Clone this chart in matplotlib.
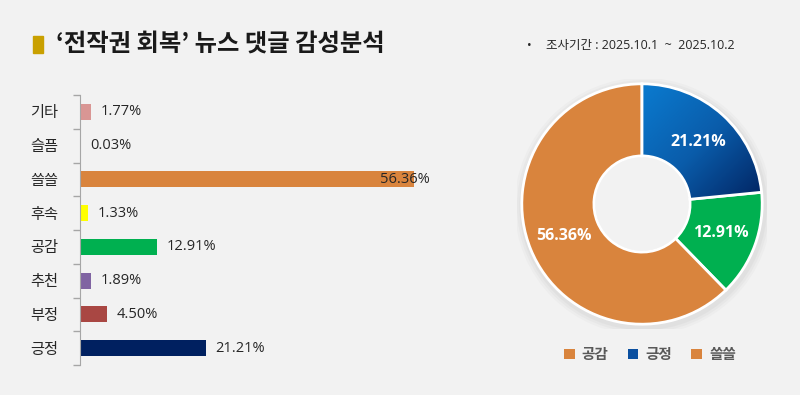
import numpy as np
import matplotlib
matplotlib.use("Agg")
import matplotlib.pyplot as plt
from matplotlib.patches import Patch, Rectangle
from matplotlib.colors import LinearSegmentedColormap

plt.rcParams['font.family'] = ['Open Sans', 'Noto Sans CJK KR', 'DejaVu Sans']

# 막대 데이터 (위에서 아래 순서)
categories = ['기타', '슬픔', '쓸쓸', '후속', '공감', '추천', '부정', '긍정']
values = [1.77, 0.03, 56.36, 1.33, 12.91, 1.89, 4.50, 21.21]
bar_colors = ['#D99694', '#D9D9D9', '#D9843D', '#FFFF00', '#00B050', '#8064A2', '#A94743', '#002060']

# 도넛 데이터
pie_labels = ['긍정', '공감', '쓸쓸']
pie_values = [21.21, 12.91, 56.36]
pie_colors = ['#0A5CAA', '#00B050', '#D9843D']

legend_labels = ['공감', '긍정', '쓸쓸']
legend_colors = ['#D9843D', '#0A4FA0', '#D9843D']

bg = '#F2F2F2'
fig = plt.figure(figsize=(8, 3.95), dpi=100)
fig.patch.set_facecolor(bg)

# 제목
fig.patches.append(Rectangle((33 / 800, 1 - 53 / 395), 10 / 800, 17 / 395,
                             transform=fig.transFigure, color='#C9A000'))
fig.text(56 / 800, 1 - 44 / 395, "‘전작권 회복’ 뉴스 댓글 감성분석", fontsize=17.5,
         fontweight='bold', color='#1A1A1A', va='center', ha='left',
         family=['Noto Sans CJK KR', 'DejaVu Sans'])
fig.text(527 / 800, 1 - 45 / 395, "•", fontsize=9, color='#262626', va='center')
fig.text(546 / 800, 1 - 45 / 395, "조사기간 : 2025.10.1  ~  2025.10.2", fontsize=9,
         color='#262626', va='center')

# 막대 그래프
ax = fig.add_axes([80 / 800, 30 / 395, 356 / 800, 270 / 395])
ax.set_facecolor(bg)
ypos = np.arange(len(categories))[::-1]
ax.barh(ypos, values, height=0.47, color=bar_colors)
ax.set_xlim(0, 60)
ax.set_ylim(-0.5, len(categories) - 0.5)
ax.set_yticks(ypos)
ax.set_yticklabels(categories, fontsize=11, color='#262626')
ax.set_yticks(np.arange(-0.5, len(categories), 1), minor=True)
ax.tick_params(axis='y', which='major', length=0, pad=16)
ax.tick_params(axis='y', which='minor', length=5, color='#A6A6A6', width=1)
ax.set_xticks([])
for s in ['top', 'right', 'bottom']:
    ax.spines[s].set_visible(False)
ax.spines['left'].set_color('#A6A6A6')
vmax = max(values)
for y, v in zip(ypos, values):
    if v == vmax:
        ax.annotate(f"{v:.2f}%", (v, y), xytext=(-25, 0), textcoords='offset points',
                    ha='left', va='center', fontsize=10.5, color='#262626')
    else:
        ax.annotate(f"{v:.2f}%", (v, y), xytext=(7, 0), textcoords='offset points',
                    ha='left', va='center', fontsize=10.5, color='#262626')

# 도넛 차트
ax2 = fig.add_axes([517 / 800, 66 / 395, 250 / 800, 250 / 395])
ax2.set_facecolor(bg)
for r, a in [(1.07, 0.04), (1.05, 0.05), (1.03, 0.06)]:
    ax2.add_patch(plt.Circle((0.01, -0.02), r, color='#808080', alpha=a, lw=0, zorder=0.8))
ax2.add_patch(plt.Circle((0, 0), 0.39, color=bg, lw=0, zorder=0.9))
wedges, _ = ax2.pie(pie_values, colors=pie_colors, startangle=90, counterclock=False,
                    radius=1, wedgeprops=dict(width=0.6, edgecolor='white', linewidth=2))
ax2.set_xlim(-1.04, 1.04)
ax2.set_ylim(-1.04, 1.04)
ax2.set_aspect('equal')
ax2.axis('off')

# 긍정 조각 그라데이션
gx, gy = np.meshgrid(np.linspace(-1, 1, 300), np.linspace(1, -1, 300))
grad = np.clip((gx - gy + 1) / 2, 0, 1)
cmap = LinearSegmentedColormap.from_list('blu', ['#0A78CC', '#0A5CAA', '#022766'])
im = ax2.imshow(grad, extent=[-1, 1, -1, 1], cmap=cmap, vmin=0.05, vmax=0.95, zorder=1.5)
im.set_clip_path(wedges[0])
wedges[0].set_zorder(2)
wedges[0].set_facecolor('none')

total = sum(pie_values)
ang = 90
for w, v in zip(wedges, pie_values):
    span = v / total * 360
    mid = np.deg2rad(ang - span / 2)
    ang -= span
    ax2.text(0.7 * np.cos(mid), 0.7 * np.sin(mid), f"{v:.2f}%", color='white',
             fontsize=11.5, fontweight='bold', ha='center', va='center', zorder=3)

handles = [Patch(facecolor=c, edgecolor='none') for c in legend_colors]
fig.legend(handles, legend_labels, loc='center', bbox_to_anchor=(650 / 800, 1 - 354 / 395),
           ncol=3, frameon=False, handlelength=0.75, handleheight=0.75,
           handletextpad=0.5, columnspacing=1.3,
           prop={'weight': 'bold', 'size': 10.5, 'family': ['Noto Sans CJK KR', 'DejaVu Sans']})
for t in fig.legends[0].get_texts():
    t.set_color('#595959')

fig.savefig("out.png", dpi=100, facecolor=bg)
